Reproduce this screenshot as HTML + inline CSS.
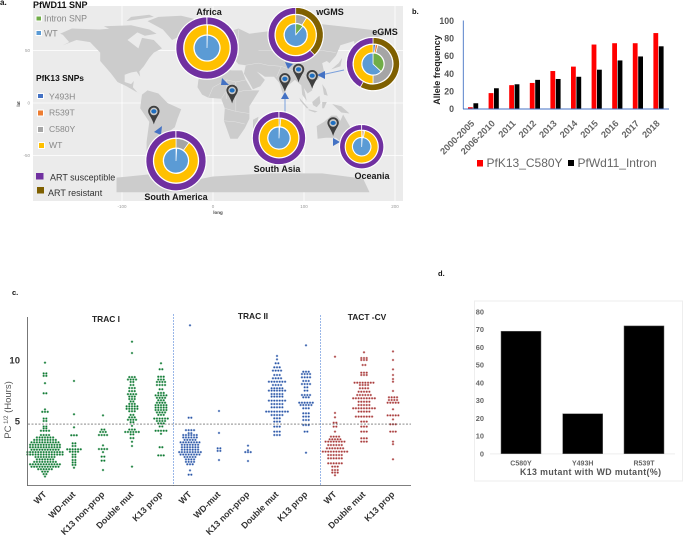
<!DOCTYPE html>
<html>
<head>
<meta charset="utf-8">
<title>Allele frequency figure</title>
<style>
html,body{margin:0;padding:0;background:#fff;width:683px;height:535px;overflow:hidden}
svg{display:block;font-family:"Liberation Sans",sans-serif;filter:blur(0.35px)}
</style>
</head>
<body>
<svg id="fig" width="683" height="535" viewBox="0 0 683 535" xmlns="http://www.w3.org/2000/svg">
  <rect width="683" height="535" fill="#fff"/>
  <g id="panelA">
    <rect x="33" y="6" width="370" height="195" fill="#ebebeb"/>
    <g id="mapGrid"></g>
    <g id="mapLand"></g>
    <g id="links">
      <line x1="285" y1="96" x2="285" y2="113" stroke="#7aa0dc" stroke-width="1"/>
      <line x1="321" y1="75" x2="344" y2="70" stroke="#7aa0dc" stroke-width="1"/>
      <polygon points="162,126 154,132 161,135" fill="#4472c4"/>
      <polygon points="222,78 229,85 221,85" fill="#4472c4"/>
      <polygon points="285,92 281,99 289,99" fill="#4472c4"/>
      <polygon points="285,62 293,64 288,69" fill="#4472c4"/>
      <polygon points="317,75 325,71 325,79" fill="#4472c4"/>
      <polygon points="340,142 333,138 333,146" fill="#4472c4"/>
    </g>
    <g id="pins"></g>
    <g id="insets"></g>
    <g font-weight="bold" font-size="9" fill="#1a1a1a" text-anchor="middle">
      <text x="209" y="15">Africa</text>
      <text x="330" y="15">wGMS</text>
      <text x="385" y="35">eGMS</text>
      <text x="277" y="172">South Asia</text>
      <text x="372" y="179">Oceania</text>
      <text x="176" y="200">South America</text>
    </g>
    <text x="0" y="5" font-size="8" font-weight="bold" fill="#111">a.</text>
    <text x="33" y="8" font-size="9" font-weight="bold" fill="#111">PfWD11 SNP</text>
    <g><rect x="36" y="16" width="5.5" height="5" fill="#70ad47" stroke="#fff"/><text x="44" y="21.5" font-size="8.8" fill="#888">Intron SNP</text></g>
    <g><rect x="36" y="30.5" width="5.5" height="5" fill="#5b9bd5" stroke="#fff"/><text x="44" y="36.5" font-size="8.8" fill="#888">WT</text></g>
    <text x="36" y="81" font-size="8.4" font-weight="bold" fill="#111">PfK13 SNPs</text>
    <g><rect x="37.5" y="93.5" width="6" height="5" fill="#4472c4" stroke="#fff"/><text x="49" y="99.5" font-size="8.6" fill="#888">Y493H</text></g>
    <g><rect x="37.5" y="110" width="6" height="6" fill="#ed7d31" stroke="#fff"/><text x="49" y="115.5" font-size="8.6" fill="#888">R539T</text></g>
    <g><rect x="37.5" y="126.5" width="6" height="6" fill="#a5a5a5" stroke="#fff"/><text x="49" y="132" font-size="8.6" fill="#888">C580Y</text></g>
    <g><rect x="38.5" y="142.5" width="6" height="6" fill="#ffc000" stroke="#fff"/><text x="49" y="148" font-size="8.6" fill="#888">WT</text></g>
    <g><rect x="36" y="173" width="7.5" height="6.5" fill="#7030a0"/><text x="50" y="180.5" font-size="9" fill="#333">ART susceptible</text></g>
    <g><rect x="37" y="187" width="7" height="6.5" fill="#7f6000"/><text x="48" y="196" font-size="9" fill="#333">ART resistant</text></g>
    <text transform="translate(20,104) rotate(-90)" font-size="4.5" font-weight="bold" text-anchor="middle" fill="#444">lat</text>
    <text x="218" y="214" font-size="4.5" font-weight="bold" text-anchor="middle" fill="#444">long</text>
    <g id="mapTicks"></g>
  </g>
  <g id="panelB">
    <text x="412" y="14" font-size="7.5" font-weight="bold" fill="#111">b.</text>
    <text transform="translate(440,70) rotate(-90)" font-size="9" font-weight="bold" text-anchor="middle" fill="#222">Allele frequency</text>
    <g id="barsB"></g>
    <g><rect x="477" y="160" width="6" height="6.5" fill="#f00"/><text x="486.5" y="167" font-size="12" fill="#666">PfK13_C580Y</text></g>
    <g><rect x="568" y="160" width="6" height="6" fill="#000"/><text x="577.5" y="167" font-size="12" fill="#666">PfWd11_Intron</text></g>
  </g>
  <g id="panelC">
    <text x="12" y="295" font-size="7.5" font-weight="bold" fill="#111">c.</text>
    <text x="106" y="322" font-size="8.4" font-weight="bold" text-anchor="middle" fill="#222">TRAC I</text>
    <text x="253" y="319" font-size="8.4" font-weight="bold" text-anchor="middle" fill="#222">TRAC II</text>
    <text x="367" y="320" font-size="8.4" font-weight="bold" text-anchor="middle" fill="#222">TACT -CV</text>
    <text transform="translate(11,410) rotate(-90)" font-size="9.5" text-anchor="middle" fill="#555">PC<tspan font-size="6" dy="-3"> 1/2</tspan><tspan dy="3"> (Hours)</tspan></text>
    <line x1="173.5" y1="314" x2="173.5" y2="486" stroke="#8fb0e6" stroke-width="0.9" stroke-dasharray="2 1"/>
    <line x1="320.5" y1="315" x2="320.5" y2="486" stroke="#8fb0e6" stroke-width="0.9" stroke-dasharray="2 1"/>
    <g id="swarm"></g>
  </g>
  <g id="panelD">
    <text x="438" y="276" font-size="7.5" font-weight="bold" fill="#111">d.</text>
    <rect x="474.5" y="301" width="208" height="180" fill="#fff" stroke="#eeeeee" stroke-width="1"/>
    <g id="barsD"></g>
    <text x="520" y="475" font-size="8.8" font-weight="bold" fill="#555" textLength="141" lengthAdjust="spacing">K13 mutant with WD mutant(%)</text>
  </g>
</svg>
<script>
// Panel b data
var yearLabels = ['2000-2005','2006-2010','2011','2012','2013','2014','2015','2016','2017','2018'];
var pfk13Values = [2,18,27,29.5,43,48,73,74.5,74.5,86];
var pfwd11Values = [6.5,23.5,28,33,34,36.5,44.5,55,59.5,71];
var allelesTicks = [0,20,40,60,80,100];

// Panel d data
var mutantLabels = ['C580Y','Y493H','R539T'];
var mutantValues = [69,22.5,72];
var mutantTicks = [0,10,20,30,40,50,60,70,80];

// Panel a donut data: outer ring (susceptible, resistant), middle ring (WT, C580Y, R539T, Y493H), inner ring (WT, intron)
var insetNames = ['africa','wgms','egms','south-asia','oceania','south-america'];
var artResistant = [0,38,58,0,0,0];
var artSusceptible = [100,62,42,100,100,100];
var k13Y493H = [0,0,2,0,0,0];
var k13R539T = [0,0,2,0,1.5,0];
var k13C580Y = [0.5,9,46,1.5,1.5,10];
var k13WT = [99.5,91,50,98.5,97,90];
var wdIntron = [0.5,11,37,1,1,1];
var wdWT = [99.5,89,63,99,99,99];

// Panel c data: hours level and number of isolates at that level
var t1WtHours = [0.45,0.65,0.85,1.05,1.25,1.45,1.65,1.85,2.05,2.25,2.45,2.65,2.85,3.05,3.25,3.45,3.65,3.85,4.2,4.4,4.55,5.0,5.2,5.75,5.95,7.27,8.1,8.7,8.9,9.78];
var t1WtCounts = [1,2,3,6,11,12,9,7,8,14,14,11,12,12,11,9,7,4,4,2,2,2,2,3,1,2,1,2,2,1];
var t1WdHours = [8.28,5.55,4.48,3.83,3.17,2.95,2.68,2.48,2.25,2.05,1.8,1.6,1.4,1.17];
var t1WdCounts = [1,1,1,3,2,2,6,4,2,2,2,2,2,1];
var t1NpHours = [5.46,4.3,4.1,3.85,3.0,2.7,2.45,2.08,1.75,0.98];
var t1NpCounts = [1,2,3,4,1,4,1,2,2,1];
var t1DoubleHours = [11.5,10.57,8.6,8.4,8.2,7.95,7.7,7.45,7.2,7,6.8,6.6,6.4,6.2,6,5.8,5.5,5.3,5.1,4.9,4.6,4.3,4.1,3.9,3.6,3.3,2.95,1.26];
var t1DoubleCounts = [1,1,3,4,2,2,3,3,4,3,3,2,3,5,5,3,2,3,4,2,1,3,6,2,2,1,1,1];
var t1K13Hours = [9.73,9.24,8.63,8.4,8.2,7.95,7.6,7.3,7.1,6.9,6.7,6.5,6.3,6.1,5.9,5.7,5.5,5.2,5,4.8,4.55,4.2,3.95,2.85,2.18];
var t1K13Counts = [1,2,3,3,4,4,2,3,5,4,3,4,5,5,5,4,3,6,4,3,2,5,1,2,3];
var t2WtHours = [12.84,5.27,4.25,4,3.85,3.65,3.45,3.25,3.05,2.85,2.65,2.45,2.25,2.05,1.85,1.65,1.45,0.95,0.6];
var t2WtCounts = [1,2,4,2,6,6,5,8,7,7,7,9,8,5,4,4,3,1,2];
var t2WdHours = [5.82,4.02,2.76,2.55,1.8];
var t2WdCounts = [1,1,2,2,1];
var t2NpHours = [2.98,2.6,2.45,1.72];
var t2NpCounts = [1,1,3,1];
var t2DoubleHours = [10.33,10.05,9.73,9.4,9.13,8.77,8.5,8.22,7.95,7.68,7.49,7.21,7,6.67,6.39,6.12,5.77,5.49,5.22,4.95,4.54,4.13,3.85];
var t2DoubleCounts = [1,1,2,3,4,3,4,7,4,5,7,5,5,7,5,5,9,5,3,3,3,3,3];
var t2K13Hours = [11.2,9.04,8.85,8.58,8.28,8.03,7.76,7.49,7.13,6.94,6.5,6.31,6.04,5.63,5.36,5.08,4.67,4.13,2.4];
var t2K13Counts = [1,3,4,4,3,4,2,2,4,3,6,5,3,3,3,3,3,2,1];
var tactWtHours = [10.27,5.66,5.3,4.86,4.54,4.13,3.72,3.5,3.31,3.03,2.76,2.49,2.21,1.94,1.53,1.26,0.98,0.77,0.55];
var tactWtCounts = [1,1,1,2,2,1,4,5,8,6,7,10,6,6,6,3,3,3,1];
var tactDoubleHours = [10.63,10.16,10,9.59,8.96,8.77,8.14,7.95,7.68,7.4,7.13,6.86,6.58,6.31,6.04,5.77,5.36,4.95,4.54,4.13,3.58,3.31];
var tactDoubleCounts = [1,3,3,2,3,3,8,4,4,5,6,9,5,5,9,5,7,3,3,3,3,3];
var tactK13Hours = [10.7,10,9.23,8.77,8.44,8.22,7.46,6.94,6.72,6.5,5.96,5.46,5.13,4.73,4.13,3.31,3.1,1.86];
var tactK13Counts = [1,1,1,1,1,1,1,4,4,5,1,5,1,3,3,1,1,1];
var swarmTicks = [5,10];
var thresholdHours = 4.75;

var NS = 'http://www.w3.org/2000/svg';
function el(tag, attrs, parent) {
  var e = document.createElementNS(NS, tag);
  for (var k in attrs) { e.setAttribute(k, attrs[k]); }
  parent.appendChild(e);
  return e;
}
function byId(i) { return document.getElementById(i); }

/* Map */
function lonX(lon) { return 213 + 0.91 * lon; }
function latY(lat) { return 103 - 1.05 * lat; }
var landShapes = {
  'north-america': [[-165,65],[-168,66],[-155,71],[-125,70],[-95,72],[-82,68],[-94,60],[-82,52],[-78,62],[-65,60],[-56,52],[-65,48],[-70,43],[-76,35],[-81,30],[-80,25],[-84,30],[-90,29],[-97,27],[-97,20],[-90,18],[-87,21],[-88,15],[-83,10],[-78,8],[-85,11],[-95,16],[-105,20],[-112,28],[-117,33],[-124,40],[-124,48],[-135,58],[-150,60],[-165,55],[-158,58]],
  'greenland': [[-45,60],[-22,70],[-20,80],[-35,83],[-60,82],[-72,78],[-55,70]],
  'arctic-islands': [[-120,73],[-90,74],[-70,70],[-62,66],[-75,64],[-90,70],[-110,69]],
  'ellesmere': [[-95,78],[-65,82],[-70,84],[-90,82]],
  'south-america': [[-78,8],[-72,12],[-60,9],[-50,0],[-35,-6],[-39,-15],[-42,-23],[-48,-27],[-57,-36],[-65,-42],[-68,-52],[-73,-50],[-73,-37],[-70,-18],[-80,-5],[-79,2]],
  'africa': [[-17,15],[-16,22],[-8,33],[-2,36],[10,37],[11,33],[20,31],[32,31],[36,22],[43,12],[51,12],[40,-3],[40,-15],[35,-24],[27,-34],[19,-34],[12,-17],[13,-5],[9,4],[-5,5],[-12,8]],
  'eurasia': [[-9,37],[-9,43],[-1,44],[-4,48],[8,54],[10,58],[5,60],[14,67],[28,71],[40,66],[68,69],[80,73],[110,76],[140,73],[180,69],[190,65],[178,62],[163,58],[156,52],[155,59],[140,55],[135,45],[128,38],[125,40],[120,38],[122,30],[115,22],[108,20],[109,12],[104,9],[100,14],[103,2],[98,8],[97,17],[90,22],[80,15],[77,8],[73,19],[67,25],[57,25],[52,28],[48,30],[57,22],[52,16],[44,13],[39,21],[34,28],[36,36],[28,37],[25,40],[22,37],[18,40],[12,44],[15,39],[8,44],[3,42],[0,38],[-5,36]],
  'australia': [[114,-22],[122,-18],[130,-12],[136,-12],[140,-17],[143,-11],[153,-26],[150,-37],[143,-39],[135,-33],[124,-33],[115,-34]],
  'sumatra': [[95,5],[105,-5],[103,-5],[96,2]],
  'borneo': [[109,1],[117,7],[118,0],[114,-4],[110,-2]],
  'java': [[105,-6],[115,-8],[112,-9],[105,-7]],
  'sulawesi': [[120,1],[125,1],[122,-5],[120,-5]],
  'new-guinea': [[131,-1],[141,-3],[150,-10],[141,-9]],
  'philippines': [[120,18],[124,13],[126,7],[122,8]],
  'japan': [[130,32],[140,35],[142,43],[138,38]],
  'britain': [[-5,50],[1,52],[-3,58],[-6,56]],
  'iceland': [[-24,65],[-14,66],[-15,64],[-22,63]],
  'madagascar': [[44,-16],[50,-13],[47,-25],[44,-24]],
  'new-zealand': [[167,-46],[174,-37],[178,-38],[171,-45]],
  'antarctica': [[-106,-71],[-70,-68],[-55,-72],[-30,-75],[0,-70],[60,-67],[120,-67],[165,-72],[172,-85],[-106,-85]]
};
var borderLines = [
  [[-5,5],[0,15],[15,22],[25,20],[36,22]],
  [[9,4],[15,12],[25,10],[35,12],[43,12]],
  [[13,-5],[25,-8],[40,-10]],
  [[12,-17],[25,-18],[35,-20]],
  [[25,20],[25,-8]],
  [[15,22],[15,4]],
  [[36,36],[50,38],[60,36],[75,35],[97,28],[108,22]],
  [[50,50],[80,50],[120,50],[135,48]],
  [[75,35],[70,25]],
  [[28,45],[28,70]]
];
var gridG = byId('mapGrid');
[-100,0,100,200].forEach(function (lon) {
  var gl = el('line', {x1: lonX(lon), x2: lonX(lon), y1: 6, y2: 201, stroke: '#fff', 'stroke-width': 0.8}, gridG);
  
  
});
[50,0,-50].forEach(function (lat) {
  var gl = el('line', {x1: 33, x2: 403, y1: latY(lat), y2: latY(lat), stroke: '#fff', 'stroke-width': 0.8}, gridG);
  
  
});
Object.keys(landShapes).forEach(function (name) {
  var pts = landShapes[name].map(function (p) { return lonX(p[0]).toFixed(1) + ',' + latY(p[1]).toFixed(1); }).join(' ');
  var poly = el('polygon', {points: pts, fill: '#cccccc'}, byId('mapLand'));
  
  
});
borderLines.forEach(function (line) {
  var pts = line.map(function (p) { return lonX(p[0]).toFixed(1) + ',' + latY(p[1]).toFixed(1); }).join(' ');
  var b = el('polyline', {points: pts, fill: 'none', stroke: '#e4e4e4', 'stroke-width': 0.5}, byId('mapLand'));
  
  
});
var tickG = byId('mapTicks');
[-100,0,100,200].forEach(function (lon) {
  var t = el('text', {x: lonX(lon), y: 208, 'font-size': 4.5, fill: '#999', 'text-anchor': 'middle'}, tickG);
  
  
  t.textContent = lon;
});
[50,0,-50].forEach(function (lat) {
  var t = el('text', {x: 30, y: latY(lat) + 1.5, 'font-size': 4.5, fill: '#999', 'text-anchor': 'end'}, tickG);
  
  
  t.textContent = lat;
});

/* Pins */
var pinLonLat = [[-65,-8],[21,12],[79,23],[94,32],[109,26],[132,-19]];
pinLonLat.forEach(function (p) {
  var x = lonX(p[0]), y = latY(p[1]);
  var g = el('g', {}, byId('pins'));
  
  
  el('path', {d: 'M' + (x - 5.7) + ' ' + y + 'a5.7 5.7 0 1 1 11.4 0c0 3-3.6 6-5.7 13c-2.1-7-5.7-10-5.7-13z', fill: '#3f3f3f'}, g);
  el('circle', {cx: x, cy: y, r: 3.8, fill: '#c9c9c9'}, g);
  el('ellipse', {cx: x, cy: y, rx: 2.6, ry: 2.1, fill: '#1f6fc0'}, g);
});

/* Donuts */
var insetCx = [207,295.7,373,279,361.7,176];
var insetCy = [48,35,64,138,146.7,160.7];
var insetR = [31,27.5,26.5,26.5,22,30];
function ringPath(cx, cy, r0, r1, a0, a1) {
  if (a1 - a0 >= 359.5) { a1 = a0 + 359.5; }
  function pt(r, a) { var t = (a - 90) * Math.PI / 180; return (cx + r * Math.cos(t)).toFixed(3) + ' ' + (cy + r * Math.sin(t)).toFixed(3); }
  var large = (a1 - a0) > 180 ? 1 : 0;
  return 'M' + pt(r1, a0) + 'A' + r1 + ' ' + r1 + ' 0 ' + large + ' 1 ' + pt(r1, a1) + 'L' + pt(r0, a1) + 'A' + r0 + ' ' + r0 + ' 0 ' + large + ' 0 ' + pt(r0, a0) + 'Z';
}
function drawRing(parent, cx, cy, r0, r1, values, colors) {
  var total = values.reduce(function (a, b) { return a + b; }, 0);
  var a = 0;
  values.forEach(function (v, i) {
    if (v <= 0) { return; }
    var a1 = a + v / total * 360;
    var seg = el('path', {d: ringPath(cx, cy, r0, r1, a, a1), fill: colors[i], stroke: '#fff', 'stroke-width': 0.7}, parent);
    
    
    a = a1;
  });
}
insetNames.forEach(function (name, i) {
  var g = el('g', {}, byId('insets'));
  
  
  var cx = insetCx[i], cy = insetCy[i], R = insetR[i];
  el('circle', {cx: cx, cy: cy, r: R + 0.8, fill: '#fff'}, g);
  drawRing(g, cx, cy, R * 0.76, R, [artResistant[i], artSusceptible[i]], ['#7f6000', '#7030a0']);
  drawRing(g, cx, cy, R * 0.43, R * 0.74, [k13Y493H[i], k13R539T[i], k13C580Y[i], k13WT[i]], ['#4472c4', '#ed7d31', '#a5a5a5', '#ffc000']);
  drawRing(g, cx, cy, 0.01, R * 0.41, [wdIntron[i], wdWT[i]], ['#70ad47', '#5b9bd5']);
});

/* Panel b */
function bY(v) { return 109 - v * 0.883; }
function bX(i) { return 468 + 20.6 * i; }
var bg = byId('barsB');
allelesTicks.forEach(function (t) {
  var lab = el('text', {x: 454, y: bY(t) + 3.2, 'font-size': 8.8, 'font-weight': 'bold', fill: '#555', 'text-anchor': 'end'}, bg);
  
  
  lab.textContent = t;
});
yearLabels.forEach(function (label, i) {
  var r = el('rect', {x: bX(i), y: bY(pfk13Values[i]), width: 4.8, height: 109 - bY(pfk13Values[i]), fill: '#f00'}, bg);
  
  
  var k = el('rect', {x: bX(i) + 5.4, y: bY(pfwd11Values[i]), width: 4.8, height: 109 - bY(pfwd11Values[i]), fill: '#000'}, bg);
  
  
  var t = el('text', {transform: 'translate(' + (bX(i) + 7) + ',124) rotate(-45)', 'font-size': 9.2, 'font-weight': 'bold', fill: '#666', 'text-anchor': 'end'}, bg);
  
  
  t.textContent = label;
});
var by = el('line', {x1: 463.3, x2: 463.3, y1: 20.5, y2: 109, stroke: '#4472c4', 'stroke-width': 0.9}, bg);


var bx = el('line', {x1: 463, x2: 669, y1: 109, y2: 109, stroke: '#4472c4', 'stroke-width': 0.9}, bg);



/* Panel d */
function dY(v) { return 453.7 - v * 1.775; }
var dCenters = [521, 582.7, 644];
var dg = byId('barsD');
mutantTicks.forEach(function (t) {
  var lab = el('text', {x: 484, y: dY(t) + 2.6, 'font-size': 7.4, 'font-weight': 'bold', fill: '#666', 'text-anchor': 'end'}, dg);
  
  
  lab.textContent = t;
});
var dx = el('line', {x1: 490, x2: 675, y1: 453.9, y2: 453.9, stroke: '#eee', 'stroke-width': 1}, dg);


mutantLabels.forEach(function (label, i) {
  var r = el('rect', {x: dCenters[i] - 20, y: dY(mutantValues[i]), width: 40, height: 453.7 - dY(mutantValues[i]), fill: '#000', stroke: '#666', 'stroke-width': 0.5}, dg);
  
  
  var t = el('text', {x: dCenters[i], y: 465.5, 'font-size': 7, 'font-weight': 'bold', fill: '#666', 'text-anchor': 'middle'}, dg);
  
  
  t.textContent = label;
});

/* Panel c */
function cY(v) { return 421 + (5 - v) * 12.2; }
var GREEN = ['#0a7a30', '#8fbf9f'], BLUE = ['#2a55a5', '#a3b8de'], RED = ['#a83a3a', '#dba9a9'];
var swarmGroups = [
  {label: 'WT', x: 45, hours: t1WtHours, counts: t1WtCounts, c: GREEN},
  {label: 'WD-mut', x: 74, hours: t1WdHours, counts: t1WdCounts, c: GREEN},
  {label: 'K13 non-prop', x: 103, hours: t1NpHours, counts: t1NpCounts, c: GREEN},
  {label: 'Double mut', x: 132, hours: t1DoubleHours, counts: t1DoubleCounts, c: GREEN},
  {label: 'K13 prop', x: 161, hours: t1K13Hours, counts: t1K13Counts, c: GREEN},
  {label: 'WT', x: 190, hours: t2WtHours, counts: t2WtCounts, c: BLUE},
  {label: 'WD-mut', x: 219, hours: t2WdHours, counts: t2WdCounts, c: BLUE},
  {label: 'K13 non-prop', x: 248, hours: t2NpHours, counts: t2NpCounts, c: BLUE},
  {label: 'Double mut', x: 277, hours: t2DoubleHours, counts: t2DoubleCounts, c: BLUE},
  {label: 'K13 prop', x: 306, hours: t2K13Hours, counts: t2K13Counts, c: BLUE},
  {label: 'WT', x: 335, hours: tactWtHours, counts: tactWtCounts, c: RED},
  {label: 'Double mut', x: 364, hours: tactDoubleHours, counts: tactDoubleCounts, c: RED},
  {label: 'K13 prop', x: 393, hours: tactK13Hours, counts: tactK13Counts, c: RED}
];
var sg = byId('swarm');
swarmGroups.forEach(function (g) {
  var grp = el('g', {}, sg);
  
  
  g.hours.forEach(function (h, i) {
    var n = g.counts[i];
    for (var k = 0; k < n; k++) {
      var dot = el('circle', {cx: g.x + (k - (n - 1) / 2) * 2.7, cy: cY(h), r: 1.05, fill: g.c[0], stroke: g.c[1], 'stroke-width': 0.5}, grp);
      
      
    }
  });
  var t = el('text', {transform: 'translate(' + (g.x + 2) + ',495) rotate(-45)', 'font-size': 8.8, 'font-weight': 'bold', fill: '#333', 'text-anchor': 'end'}, sg);
  
  
  t.textContent = g.label;
});
var th = el('line', {x1: 28, x2: 411, y1: cY(thresholdHours), y2: cY(thresholdHours), stroke: '#444', 'stroke-width': 0.7, 'stroke-dasharray': '2 1.5'}, sg);


var ya = el('line', {x1: 27.5, x2: 27.5, y1: 317, y2: 485.5, stroke: '#555', 'stroke-width': 0.8}, sg);


var xa = el('line', {x1: 27, x2: 411, y1: 485.5, y2: 485.5, stroke: '#555', 'stroke-width': 0.8}, sg);


swarmTicks.forEach(function (t) {
  var lab = el('text', {x: 20, y: cY(t) + 3.3, 'font-size': 9.5, 'font-weight': 'bold', fill: '#333', 'text-anchor': 'end'}, sg);
  
  
  lab.textContent = t;
});
</script>
</body>
</html>
